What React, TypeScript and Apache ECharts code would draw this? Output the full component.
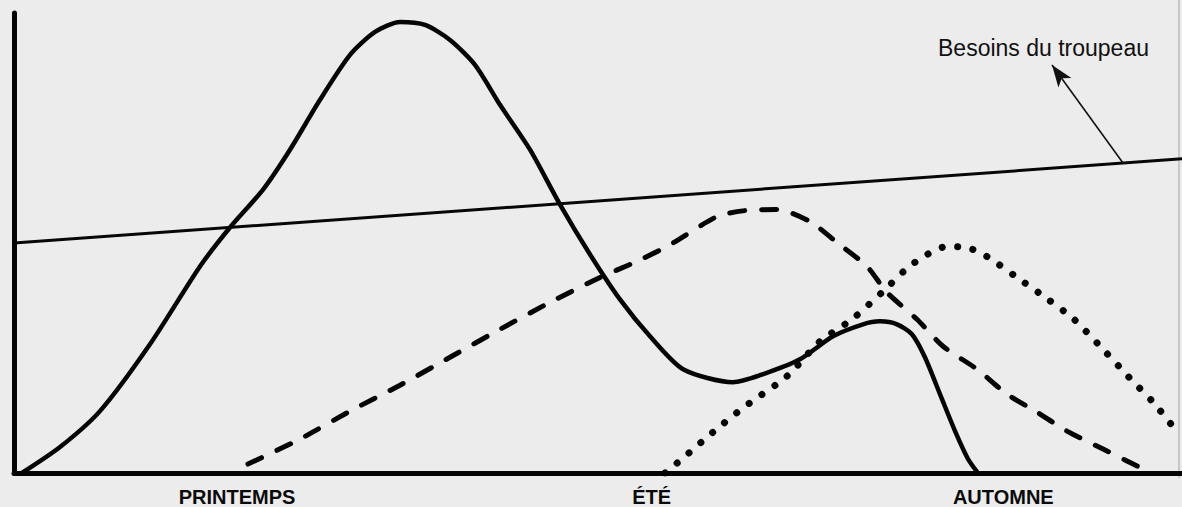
import React, { useEffect, useRef } from "react";
import * as echarts from "echarts";

// Time axis (0–100, spring → autumn) and forage/needs level (0–100)
const tickLabels = ["PRINTEMPS", "ÉTÉ", "AUTOMNE"];
const tickValues = [19.1, 54.6, 84.7];

// Pousse de l'herbe (courbe pleine)
const solidCurve: [number, number][] = [
  [0.68, 0], [3.94, 5.64], [7.36, 13.45], [11.64, 27.98], [15.92, 44.9],
  [18.49, 53.36], [21.32, 61.61], [23.63, 70.28], [26.2, 81.13], [28.77, 90.89],
  [30.91, 95.88], [33.05, 98.05], [35.19, 97.4], [37.33, 94.14], [39.47, 88.72],
  [41.61, 80.04], [44.18, 70.28], [46.75, 58.35], [49.32, 47.51], [51.88, 37.74],
  [54.45, 29.72], [57.28, 22.56], [61.56, 19.74], [63.87, 21.26], [67.29, 24.73],
  [70.12, 29.72], [72.69, 32.32], [74.14, 32.97], [75.6, 32.32], [76.88, 30.15],
  [77.99, 25.16], [79.28, 17.14], [80.57, 9.11], [81.68, 3.04], [82.53, 0],
];

// Courbe en tirets
const dashedCurve: [number, number][] = [
  [20.03, 1.95], [24.49, 7.38], [28.77, 13.45], [33.05, 19.09], [37.33, 25.16],
  [41.61, 31.24], [45.89, 37.09], [50.17, 42.52], [52.74, 45.34], [55.91, 49.24],
  [60.19, 55.75], [62.59, 57.05], [65.33, 57.27], [68.15, 54.66], [70.46, 50.11],
  [73.03, 44.9], [74.74, 39.26], [77.31, 33.41], [79.54, 27.55], [82.45, 22.56],
  [85.02, 17.14], [87.59, 13.23], [90.15, 9.11], [93.24, 5.21], [96.15, 1.52],
  [97.0, 0.65],
];

// Courbe en pointillés
const dottedCurve: [number, number][] = [
  [55.74, 0], [57.19, 3.04], [59.85, 8.89], [62.5, 14.32], [66.18, 21.04],
  [69.01, 28.63], [71.75, 33.41], [74.32, 39.26], [76.88, 45.34], [79.88, 49.24],
  [81.59, 49.02], [83.3, 47.07], [85.87, 42.52], [88.53, 37.74], [90.75, 33.41],
  [93.24, 26.9], [95.46, 20.82], [97.52, 15.4], [99.4, 9.54],
];

// Besoins du troupeau (droite)
const needsLine: [number, number][] = [
  [0, 50.0], [100, 68.3],
];

const annotationText = "Besoins du troupeau";
const arrowFrom: [number, number] = [94.95, 67.4];
const arrowTo: [number, number] = [88.87, 88.7];

export default function App() {
  const ref = useRef<HTMLDivElement>(null);

  useEffect(() => {
    if (!ref.current) return;
    const chart = echarts.init(ref.current, undefined, { renderer: "svg" });
    chart.setOption({
      animation: false,
      backgroundColor: "#ececec",
      grid: { left: 14, right: 0, top: 13, bottom: 33 },
      xAxis: {
        type: "value",
        min: 0,
        max: 100,
        axisLine: { show: true, lineStyle: { color: "#050505", width: 5 } },
        axisTick: { show: false },
        splitLine: { show: false },
        axisLabel: {
          show: true,
          customValues: tickValues,
          formatter: (v: number) => {
            const i = tickValues.indexOf(v);
            return i >= 0 ? tickLabels[i] : "";
          },
          fontFamily: "Liberation Sans, Arial, sans-serif",
          fontWeight: "bold",
          fontSize: 20,
          color: "#0a0a0a",
          margin: 14,
        },
      },
      yAxis: {
        type: "value",
        min: 0,
        max: 100,
        axisLine: { show: true, lineStyle: { color: "#050505", width: 5 } },
        axisTick: { show: false },
        splitLine: { show: false },
        axisLabel: { show: false },
      },
      series: [
        {
          type: "line",
          data: needsLine,
          showSymbol: false,
          lineStyle: { color: "#070707", width: 3 },
          markLine: {
            silent: true,
            symbol: ["none", "arrow"],
            symbolSize: [12, 22],
            label: { show: false },
            lineStyle: { color: "#111", width: 1.6, type: "solid" },
            data: [[{ coord: arrowFrom }, { coord: arrowTo }]],
          },
        },
        {
          type: "line",
          data: solidCurve,
          showSymbol: false,
          smooth: 0.25,
          lineStyle: { color: "#050505", width: 4.5, cap: "round", join: "round" },
        },
        {
          type: "line",
          data: dashedCurve,
          showSymbol: false,
          smooth: 0.25,
          lineStyle: { color: "#050505", width: 5, type: [15, 17], cap: "round" },
        },
        {
          type: "line",
          data: dottedCurve,
          showSymbol: false,
          smooth: 0.25,
          lineStyle: { color: "#050505", width: 7, type: [0.1, 15.5], cap: "round" },
        },
      ],
      graphic: [
        {
          type: "text",
          left: 938,
          top: 36,
          style: {
            text: annotationText,
            fontFamily: "Liberation Sans, Arial, sans-serif",
            fontSize: 23,
            fill: "#111",
          },
        },
        {
          type: "line",
          shape: { x1: 1179, y1: 0, x2: 1179, y2: 478 },
          style: { stroke: "#b0b0b0", lineWidth: 1.2 },
        },
      ],
    });
    return () => chart.dispose();
  }, []);

  return (
    <div
      ref={ref}
      style={{ position: "fixed", left: 0, top: 0, width: 1182, height: 507 }}
    />
  );
}
